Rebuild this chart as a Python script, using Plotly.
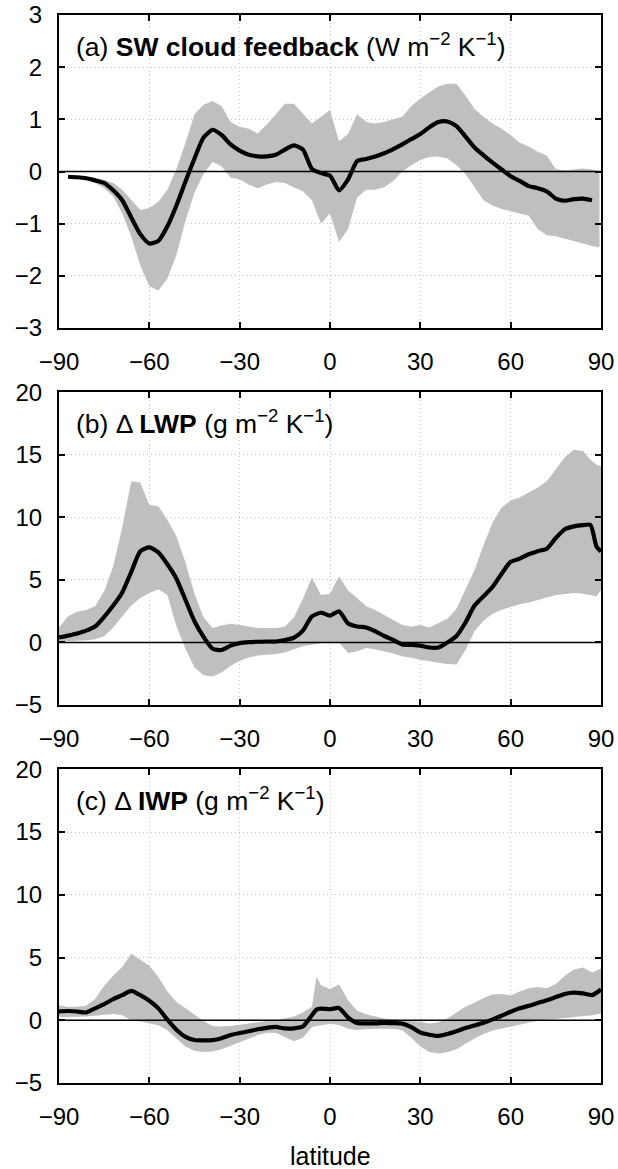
import plotly.graph_objects as go

# ---------------- data ----------------
# (a) SW cloud feedback (W m-2 K-1): multi-model mean and model spread
lat_a = [-87, -84, -81, -78, -75, -72, -69, -66, -63, -60, -57, -54, -51, -48, -45,
         -42, -39, -36, -33, -30, -27, -24, -21, -18, -15, -12, -9, -6, -3, 0,
         3, 6, 9, 12, 15, 18, 21, 24, 27, 30, 33, 36, 39, 42, 45,
         48, 51, 54, 57, 60, 63, 66, 69, 72, 75, 78, 81, 84, 87, 89.5]
mean_a = [-0.10, -0.11, -0.13, -0.17, -0.22, -0.36, -0.55, -0.88, -1.20, -1.38, -1.33, -1.05, -0.65, -0.19, 0.25,
          0.65, 0.80, 0.70, 0.52, 0.40, 0.32, 0.29, 0.29, 0.32, 0.42, 0.50, 0.42, 0.05, -0.03, -0.08,
          -0.36, -0.15, 0.20, 0.24, 0.29, 0.35, 0.43, 0.52, 0.62, 0.72, 0.85, 0.95, 0.96, 0.87, 0.67,
          0.46, 0.31, 0.17, 0.04, -0.09, -0.18, -0.28, -0.32, -0.38, -0.52, -0.56, -0.53, -0.52, -0.55, None]
hi_a = [-0.06, -0.08, -0.10, -0.12, -0.16, -0.22, -0.35, -0.55, -0.74, -0.70, -0.58, -0.35, 0.05, 0.55, 1.10,
        1.28, 1.35, 1.25, 0.95, 0.86, 0.82, 0.73, 0.90, 1.10, 1.30, 1.30, 1.10, 0.92, 1.05, 1.18,
        0.58, 0.72, 1.10, 0.95, 0.92, 0.95, 1.00, 1.05, 1.25, 1.40, 1.52, 1.63, 1.68, 1.68, 1.45,
        1.20, 1.05, 0.92, 0.82, 0.70, 0.55, 0.48, 0.38, 0.30, 0.05, 0.02, 0.04, 0.06, 0.04, 0.00]
lo_a = [-0.12, -0.14, -0.16, -0.22, -0.32, -0.48, -0.80, -1.25, -1.80, -2.20, -2.28, -2.05, -1.60, -0.95, -0.40,
        -0.05, 0.18, 0.10, -0.12, -0.15, -0.25, -0.32, -0.25, -0.20, -0.22, -0.30, -0.38, -0.55, -1.00, -0.80,
        -1.35, -1.10, -0.50, -0.35, -0.35, -0.30, -0.18, 0.00, 0.12, 0.22, 0.28, 0.29, 0.25, 0.12, -0.05,
        -0.30, -0.55, -0.65, -0.72, -0.76, -0.80, -0.85, -1.10, -1.22, -1.24, -1.28, -1.33, -1.38, -1.43, -1.45]

# (b) change in liquid water path (g m-2 K-1)
lat_b = [-90, -87, -84, -81, -78, -75, -72, -69, -66, -63, -60, -57, -54, -51, -48,
         -45, -42, -39, -36, -33, -30, -27, -24, -21, -18, -15, -12, -9, -6, -3,
         0, 3, 6, 9, 12, 15, 18, 21, 24, 27, 30, 33, 36, 39, 42,
         45, 48, 51, 54, 57, 60, 63, 66, 69, 72, 75, 78, 81, 84, 86.5, 88.5, 90]
mean_b = [0.40, 0.55, 0.72, 0.95, 1.28, 2.05, 2.95, 4.00, 5.65, 7.30, 7.60, 7.20, 6.25, 5.10, 3.40,
          1.70, 0.45, -0.50, -0.60, -0.25, -0.05, 0.03, 0.06, 0.08, 0.08, 0.20, 0.38, 0.95, 2.08, 2.38,
          2.15, 2.50, 1.52, 1.28, 1.20, 0.90, 0.52, 0.20, -0.15, -0.19, -0.25, -0.40, -0.40, 0.00, 0.52,
          1.60, 2.95, 3.70, 4.45, 5.50, 6.45, 6.70, 7.05, 7.30, 7.50, 8.35, 9.05, 9.28, 9.38, 9.40, 7.68, 7.28]
hi_b = [1.20, 2.10, 2.45, 2.60, 2.90, 4.10, 6.10, 9.20, 12.90, 12.80, 11.00, 10.90, 9.80, 8.50, 6.40,
        3.90, 2.00, 1.15, 1.35, 1.50, 1.40, 1.25, 1.15, 1.15, 1.15, 1.25, 2.00, 3.50, 5.20, 3.80,
        3.90, 5.30, 4.15, 3.55, 2.90, 2.60, 2.20, 1.85, 1.40, 1.25, 1.40, 1.20, 1.55, 1.90, 2.70,
        4.20, 5.80, 7.80, 9.60, 10.80, 11.35, 11.60, 12.00, 12.40, 12.90, 13.90, 14.80, 15.40, 15.30, 14.60, 14.20, 14.10]
lo_b = [0.08, 0.10, 0.15, 0.18, 0.25, 0.50, 1.20, 2.10, 2.95, 3.55, 3.95, 4.25, 3.80, 1.30, -0.50,
        -2.00, -2.62, -2.72, -2.40, -1.85, -1.45, -1.20, -1.05, -1.00, -0.92, -0.80, -0.55, -0.30, -0.19, -0.05,
        0.00, 0.00, -0.85, -0.70, -0.45, -0.55, -0.70, -0.88, -1.10, -1.22, -1.38, -1.52, -1.62, -1.72, -1.75,
        -0.60, 0.90, 1.75, 2.30, 2.62, 2.85, 3.05, 3.20, 3.38, 3.60, 3.80, 3.90, 3.95, 3.90, 3.80, 3.70, 4.20]

# (c) change in ice water path (g m-2 K-1)
lat_c = [-90, -87, -84, -81, -78, -75, -72, -69, -66, -63, -60, -57, -54, -51, -48,
         -45, -42, -39, -36, -33, -30, -27, -24, -21, -18, -15, -12, -9, -6, -4.5,
         -3, 0, 3, 6, 9, 12, 15, 18, 21, 24, 27, 30, 33, 36, 39,
         42, 45, 48, 51, 54, 57, 60, 63, 66, 69, 72, 75, 78, 81, 84, 87, 90]
mean_c = [0.70, 0.74, 0.70, 0.62, 0.95, 1.28, 1.68, 2.00, 2.35, 2.00, 1.55, 0.95, 0.05, -0.75, -1.32,
          -1.57, -1.60, -1.58, -1.43, -1.18, -1.02, -0.88, -0.72, -0.60, -0.53, -0.65, -0.64, -0.50, 0.40, 0.85,
          0.92, 0.88, 0.98, 0.22, -0.22, -0.25, -0.25, -0.21, -0.23, -0.27, -0.55, -0.98, -1.15, -1.25, -1.10,
          -0.88, -0.62, -0.42, -0.20, 0.07, 0.36, 0.68, 0.95, 1.15, 1.38, 1.60, 1.85, 2.10, 2.20, 2.14, 2.00, 2.45]
hi_c = [1.20, 1.05, 1.08, 1.15, 1.70, 2.75, 3.55, 4.25, 5.30, 4.85, 4.35, 3.45, 2.30, 1.45, 0.93,
        0.48, -0.05, -0.45, -0.50, -0.45, -0.35, -0.25, -0.12, -0.05, 0.00, 0.12, 0.30, 0.62, 1.07, 3.45,
        2.80, 2.50, 2.85, 1.60, 0.75, 0.48, 0.30, 0.15, 0.05, 0.00, -0.10, -0.12, -0.25, -0.15, 0.15,
        0.62, 1.07, 1.40, 1.78, 2.05, 2.10, 1.98, 2.30, 2.55, 2.65, 2.55, 2.90, 3.55, 4.05, 4.20, 3.80, 4.13]
lo_c = [0.27, 0.27, 0.28, 0.30, 0.35, 0.42, 0.50, 0.40, 0.00, -0.10, -0.22, -0.40, -0.80, -1.45, -2.10,
        -2.42, -2.52, -2.48, -2.30, -1.98, -1.76, -1.48, -1.18, -1.00, -1.00, -1.35, -1.68, -1.40, -0.55, -0.45,
        -0.38, -0.28, -0.38, -0.68, -0.78, -0.72, -0.67, -0.67, -0.68, -0.80, -1.40, -2.10, -2.52, -2.65, -2.55,
        -2.30, -1.87, -1.45, -1.10, -0.82, -0.65, -0.50, -0.35, -0.20, -0.03, 0.05, 0.13, 0.20, 0.28, 0.33, 0.40, 0.53]

x_ticks = [-90, -60, -30, 0, 30, 60, 90]
x_range = [-90, 90]
y_range_a, y_dtick_a = [-3, 3], 1
y_range_bc, y_dtick_bc = [-5, 20], 5

titles = [
    "(a) <b>SW cloud feedback</b> (W m<sup>\u22122</sup> K<sup>\u22121</sup>)",
    "(b) \u0394 <b>LWP</b> (g m<sup>\u22122</sup> K<sup>\u22121</sup>)",
    "(c) \u0394 <b>IWP</b> (g m<sup>\u22122</sup> K<sup>\u22121</sup>)",
]
x_title = "latitude"

# ---------------- styling ----------------
FONT = "Liberation Sans, Arial, Helvetica, sans-serif"
BAND = "#bfbfbf"
GRID = "#c4c4c4"

panels = [
    (lat_a, mean_a, hi_a, lo_a, y_range_a, y_dtick_a),
    (lat_b, mean_b, hi_b, lo_b, y_range_bc, y_dtick_bc),
    (lat_c, mean_c, hi_c, lo_c, y_range_bc, y_dtick_bc),
]
domains = [[0.7069, 1.0], [0.3539, 0.6467], [0.0, 0.2937]]

fig = go.Figure()

for i, (lat, mean, hi, lo, yr, dt) in enumerate(panels):
    n = i + 1
    xa = "x" if n == 1 else f"x{n}"
    ya = "y" if n == 1 else f"y{n}"
    # spread band as a closed polygon: upper edge forward, lower edge back
    fig.add_trace(go.Scatter(
        x=list(lat) + list(lat)[::-1], y=list(hi) + list(lo)[::-1],
        fill="toself", fillcolor=BAND, line=dict(width=0), mode="lines",
        hoverinfo="skip", showlegend=False, xaxis=xa, yaxis=ya))
    # zero reference line
    fig.add_trace(go.Scatter(
        x=x_range, y=[0, 0], mode="lines", line=dict(color="black", width=1.5),
        hoverinfo="skip", showlegend=False, xaxis=xa, yaxis=ya))
    # multi-model mean
    fig.add_trace(go.Scatter(
        x=lat, y=mean, mode="lines",
        line=dict(color="black", width=4.2, shape="spline", smoothing=0.6),
        connectgaps=False, showlegend=False, xaxis=xa, yaxis=ya))

    axis_common = dict(
        showline=True, linecolor="black", linewidth=2, mirror="ticks",
        ticks="inside", ticklen=6, tickwidth=1.5, tickcolor="black",
        showgrid=True, gridcolor=GRID, gridwidth=1, griddash="1px,3px",
        zeroline=False, automargin=False,
        tickfont=dict(family=FONT, size=24, color="black"),
    )
    xkey = "xaxis" if n == 1 else f"xaxis{n}"
    ykey = "yaxis" if n == 1 else f"yaxis{n}"
    fig.layout[xkey] = dict(
        axis_common, range=x_range, tickmode="array", tickvals=x_ticks,
        anchor=ya, domain=[0, 1], ticklabelstandoff=11)
    fig.layout[ykey] = dict(
        axis_common, range=yr, dtick=dt, tick0=0, anchor=xa,
        domain=domains[i], ticklabelstandoff=10)

    fig.add_annotation(
        text=titles[i], xref=f"{xa} domain", yref=f"{ya} domain",
        x=0.028, y=1 - 30 / 313.0, xanchor="left", yanchor="middle",
        showarrow=False, font=dict(family=FONT, size=26.5, color="black"))

# x-axis label under the bottom panel
fig.add_annotation(
    text=x_title, xref="x3 domain", yref="y3 domain", x=0.5, y=-73 / 313.0,
    xanchor="center", yanchor="middle", showarrow=False,
    font=dict(family=FONT, size=25, color="black"))

fig.update_layout(
    width=618, height=1169,
    margin=dict(l=59, r=17, t=15, b=86),
    paper_bgcolor="white", plot_bgcolor="white",
    showlegend=False,
)

fig.write_html("out.html")
